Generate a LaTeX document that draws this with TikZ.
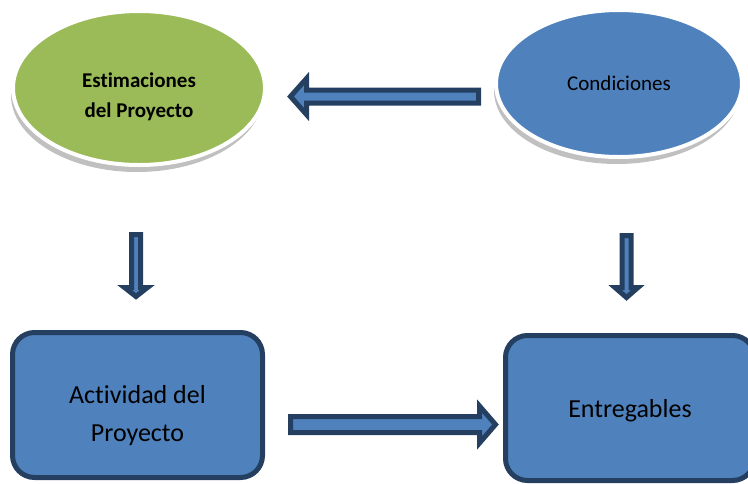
\documentclass[tikz,border=0pt]{standalone}
\usepackage{fontspec}
\setmainfont{Carlito}[Ligatures=NoCommon]
\usetikzlibrary{calc,shapes.geometric,shadows}
\definecolor{accblue}{HTML}{4F81BD}
\definecolor{accgreen}{HTML}{9BBB59}
\definecolor{darkblue}{HTML}{243F60}
\begin{document}
\begin{tikzpicture}[x=1pt,y=-1pt,
  oval/.style={ellipse, draw=white, line width=4pt, inner sep=0pt, outer sep=0pt,
    drop shadow={shadow xshift=-2pt, shadow yshift=-7pt, fill=black!45, opacity=.55}},
  rbox/.style={rectangle, rounded corners=22pt, draw=darkblue, fill=accblue,
    line width=5pt, inner sep=0pt, outer sep=0pt},
  lbl/.style={align=center, inner sep=0pt, text=black},
  barrow/.style n args={3}{draw=darkblue, fill=accblue, line width=5pt,
    line join=miter, miter limit=10,
    to path={let \p1=(\tikztostart), \p2=(\tikztotarget),
      \n1={veclen(\x2-\x1,\y2-\y1)},
      \n2={(\x2-\x1)/(\n1)}, \n3={(\y2-\y1)/(\n1)} in
      ({\x1-(\n3)*#1},{\y1+(\n2)*#1})
      -- ({\x2-(\n2)*#3-(\n3)*#1},{\y2-(\n3)*#3+(\n2)*#1})
      -- ({\x2-(\n2)*#3-(\n3)*#2},{\y2-(\n3)*#3+(\n2)*#2})
      -- (\x2,\y2)
      -- ({\x2-(\n2)*#3+(\n3)*#2},{\y2-(\n3)*#3-(\n2)*#2})
      -- ({\x2-(\n2)*#3+(\n3)*#1},{\y2-(\n3)*#3-(\n2)*#1})
      -- ({\x1+(\n3)*#1},{\y1-(\n2)*#1})
      -- cycle}}
]
\useasboundingbox (0,0) rectangle (748,483);

\node[oval, fill=accgreen, minimum width=252pt, minimum height=154pt,
  label={[lbl, font=\bfseries\fontsize{21}{30}\selectfont, yshift=-9pt]center:Estimaciones\\del Proyecto}]
  (est) at (139,88) {};
\node[oval, fill=accblue, minimum width=246pt, minimum height=147pt,
  font=\fontsize{21}{25}\selectfont] (cond) at (619,83.5) {Condiciones};

\node[rbox, minimum width=250pt, minimum height=145pt,
  label={[lbl, font=\fontsize{26}{38}\selectfont, yshift=-10.5pt]center:Actividad del\\Proyecto}]
  (act) at (137.5,405) {};
\node[rbox, minimum width=249pt, minimum height=145pt,
  label={[lbl, font=\fontsize{26}{38}\selectfont, yshift=-2.5pt]center:Entregables}]
  (ent) at (630,408) {};

\draw[barrow={6.5}{18}{16}] ($(cond.west)+(-17.5,13)$) to ($(est.east)+(25.5,8.5)$);
\draw[barrow={4.5}{11.5}{9}] ($(est.south)+(-3,69.5)$) to ($(act.north)+(-1.5,-36)$);
\draw[barrow={4.5}{11.5}{10}] ($(cond.south)+(7.5,78.5)$) to ($(ent.north)+(-3.5,-38)$);
\draw[barrow={8}{18.5}{16}] ($(act.east)+(28,19.5)$) to ($(ent.west)+(-10,16.5)$);
\end{tikzpicture}
\end{document}
